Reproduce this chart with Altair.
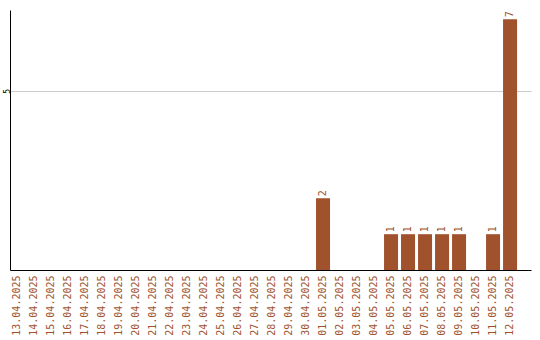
import altair as alt
import pandas as pd

# Daily counts, 13.04.2025 - 12.05.2025
dates = [
    "13.04.2025", "14.04.2025", "15.04.2025", "16.04.2025", "17.04.2025",
    "18.04.2025", "19.04.2025", "20.04.2025", "21.04.2025", "22.04.2025",
    "23.04.2025", "24.04.2025", "25.04.2025", "26.04.2025", "27.04.2025",
    "28.04.2025", "29.04.2025", "30.04.2025", "01.05.2025", "02.05.2025",
    "03.05.2025", "04.05.2025", "05.05.2025", "06.05.2025", "07.05.2025",
    "08.05.2025", "09.05.2025", "10.05.2025", "11.05.2025", "12.05.2025",
]
counts = [
    0, 0, 0, 0, 0,
    0, 0, 0, 0, 0,
    0, 0, 0, 0, 0,
    0, 0, 0, 2, 0,
    0, 0, 1, 1, 1,
    1, 1, 0, 1, 7,
]

df = pd.DataFrame({"date": dates, "count": counts})

BAR = "#a0522d"
MONO = "DejaVu Sans Mono"

x = alt.X(
    "date:N",
    sort=None,
    scale=alt.Scale(paddingInner=0.176, paddingOuter=0.41, align=0),
    axis=alt.Axis(
        title=None,
        labelAngle=-90,
        labelFont=MONO,
        labelFontSize=10,
        labelColor=BAR,
        labelPadding=5,
        ticks=False,
        domainColor="#000000",
        domainWidth=1,
        grid=False,
    ),
)
y = alt.Y(
    "count:Q",
    scale=alt.Scale(domain=[0, 7.26], nice=False),
    axis=alt.Axis(
        title=None,
        values=[5],
        labelAngle=-90,
        labelFont=MONO,
        labelFontSize=8,
        labelColor="#000000",
        labelPadding=3,
        labelAlign="center",
        labelBaseline="middle",
        ticks=False,
        domainColor="#000000",
        domainWidth=1,
        grid=True,
        gridColor="#cccccc",
        gridWidth=1,
    ),
)

bars = alt.Chart(df).mark_bar(color=BAR).encode(x=x, y=y)

labels = (
    alt.Chart(df)
    .transform_filter(alt.datum["count"] > 0)
    .mark_text(angle=270, align="left", baseline="middle", dx=2,
               font=MONO, fontSize=10, color=BAR)
    .encode(x=x, y=y, text="count:Q")
)

chart = (
    alt.layer(bars, labels)
    .properties(
        width=521,
        height=260,
        background="#ffffff",
        autosize=alt.AutoSizeParams(type="none"),
        padding={"left": 10, "top": 10, "right": 9, "bottom": 70},
    )
    .configure_view(stroke=None, strokeWidth=0)
)

chart.save("out.html", embed_options={"renderer": "svg", "actions": False})
